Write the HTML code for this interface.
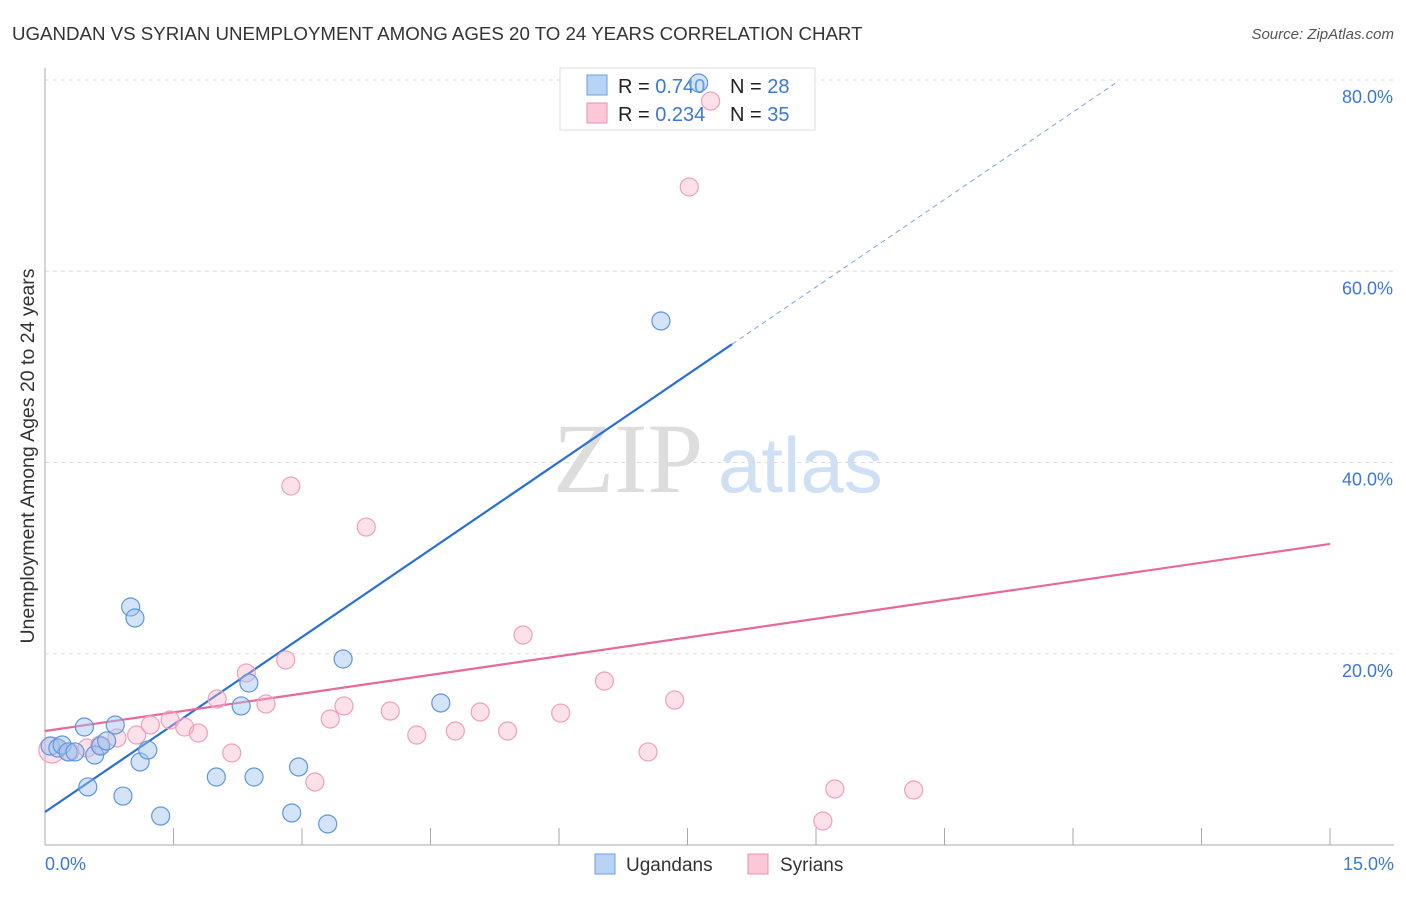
<!DOCTYPE html>
<html><head><meta charset="utf-8"><style>
body{margin:0;background:#fff;font-family:"Liberation Sans",sans-serif;}
</style></head><body>
<svg id="c" width="1406" height="892" xmlns="http://www.w3.org/2000/svg">
<text x="12" y="40" font-size="18.7" fill="#333">UGANDAN VS SYRIAN UNEMPLOYMENT AMONG AGES 20 TO 24 YEARS CORRELATION CHART</text>
<text x="1394" y="39" font-size="15" fill="#555" font-style="italic" text-anchor="end">Source: ZipAtlas.com</text>
<text x="553" y="492" font-size="100" fill="#ddd" font-family="Liberation Serif,serif">ZIP</text>
<text x="718" y="492" font-size="78" fill="#cfe0f5">atlas</text>
<g id="grid"></g><g id="axes"></g>
<g>
<rect x="560" y="68" width="255" height="62" fill="#fff" stroke="#ddd"/>
<rect x="587" y="75" width="20" height="20" fill="#b9d3f5" stroke="#6a9fe0"/>
<rect x="587" y="103" width="20" height="20" fill="#fbc8d8" stroke="#ec8fae"/>
<text x="618" y="93" font-size="20" fill="#222">R = <tspan fill="#3a78d4">0.740</tspan></text>
<text x="730" y="93" font-size="20" fill="#222">N = <tspan fill="#3a78d4">28</tspan></text>
<text x="618" y="121" font-size="20" fill="#222">R = <tspan fill="#3a78d4">0.234</tspan></text>
<text x="730" y="121" font-size="20" fill="#222">N = <tspan fill="#3a78d4">35</tspan></text>
</g>
<g id="lines"></g><g id="pts"></g>
<text x="34" y="456" font-size="19.5" fill="#333" transform="rotate(-90 34 456)" text-anchor="middle">Unemployment Among Ages 20 to 24 years</text>
<text x="45" y="870" font-size="18" fill="#3a78d4">0.0%</text>
<text x="1394" y="870" font-size="18" fill="#3a78d4" text-anchor="end">15.0%</text>
<g>
<rect x="595" y="854" width="20" height="20" fill="#b9d3f5" stroke="#6a9fe0"/>
<text x="626" y="871" font-size="19" fill="#333">Ugandans</text>
<rect x="748" y="854" width="20" height="20" fill="#fbc8d8" stroke="#ec8fae"/>
<text x="780" y="871" font-size="19" fill="#333">Syrians</text>
</g>
</svg>
<script>
const yTicks=[20,40,60,80];
const yTickLabels=["20.0%","40.0%","60.0%","80.0%"];
const xTicks=[0,1.5,3,4.5,6,7.5,9,10.5,12,13.5,15];
const ugX=[0.06,0.15,0.20,0.27,0.35,0.46,0.50,0.58,0.65,0.72,0.82,0.91,1.00,1.05,1.11,1.20,1.35,2.00,2.29,2.38,2.44,2.88,2.96,3.30,3.48,4.62,7.19,7.63];
const ugY=[10.35,10.14,10.46,9.73,9.73,12.34,6.07,9.41,10.35,10.88,12.55,5.12,24.89,23.74,8.68,9.93,3.03,7.11,14.54,16.94,7.11,3.35,8.16,2.20,19.45,14.85,54.80,79.69];
const syX=[0.08,0.29,0.49,0.64,0.84,1.07,1.23,1.46,1.63,1.79,2.01,2.18,2.35,2.58,2.81,2.87,3.15,3.33,3.49,3.75,4.03,4.34,4.79,5.08,5.40,5.58,6.02,6.53,7.04,7.35,7.52,7.77,9.08,9.22,10.14];
const syY=[9.93,9.73,10.14,10.46,11.19,11.50,12.55,13.07,12.34,11.71,15.27,9.62,17.99,14.75,19.35,37.54,6.59,13.18,14.54,33.25,14.01,11.50,11.92,13.91,11.92,21.96,13.80,17.15,9.73,15.16,68.81,77.80,2.51,5.86,5.75];
const ugTrend=[3.45,6.1];
const syTrend=[11.92,1.304];
const X=v=>45+v*(1285/15), Y=v=>845-v*9.5625;
const NS="http://www.w3.org/2000/svg";
function mk(t,a,p){const e=document.createElementNS(NS,t);for(const k in a)e.setAttribute(k,a[k]);p.appendChild(e);return e;}
const g=document.getElementById('grid'),ax=document.getElementById('axes'),ln=document.getElementById('lines'),pt=document.getElementById('pts');
yTicks.forEach((v,i)=>{
 const l=mk('line',{x1:45,x2:1394,y1:Y(v),y2:Y(v),stroke:'#ddd','stroke-dasharray':'4,4'},g);
 
 
 const t=mk('text',{x:1393,y:Y(v)+23,'font-size':18,fill:'#3a78d4','text-anchor':'end'},ax);
 t.textContent=yTickLabels[i];
 
 
});
const yl=mk('line',{x1:45,x2:45,y1:68,y2:845,stroke:'#aaa'},ax);


const xl=mk('line',{x1:45,x2:1394,y1:845,y2:845,stroke:'#aaa'},ax);


xTicks.forEach(v=>{
 const t=mk('line',{x1:X(v),x2:X(v),y1:828,y2:845,stroke:'#aaa'},ax);
 
 
});
const bx=8.02,be=12.49;
const b1=mk('line',{x1:X(0),y1:Y(ugTrend[0]),x2:X(bx),y2:Y(ugTrend[0]+ugTrend[1]*bx),stroke:'#2a6fd6','stroke-width':2.2},ln);


const b2=mk('line',{x1:X(bx),y1:Y(ugTrend[0]+ugTrend[1]*bx),x2:X(be),y2:Y(ugTrend[0]+ugTrend[1]*be),stroke:'#7aa6e0','stroke-width':1,'stroke-dasharray':'5,4'},ln);


const p1=mk('line',{x1:X(0),y1:Y(syTrend[0]),x2:X(15),y2:Y(syTrend[0]+syTrend[1]*15),stroke:'#e8689a','stroke-width':2.2},ln);


syX.forEach((v,i)=>{
 const c=mk('circle',{cx:X(v),cy:Y(syY[i]),r:i==0?13:9,fill:'rgba(248,180,202,0.4)',stroke:'#eea0ba','stroke-width':1.2},pt);
 
 
});
ugX.forEach((v,i)=>{
 const c=mk('circle',{cx:X(v),cy:Y(ugY[i]),r:9,fill:'rgba(160,195,240,0.45)',stroke:'#5f96dc','stroke-width':1.2},pt);
 
 
});
</script>
</body></html>
